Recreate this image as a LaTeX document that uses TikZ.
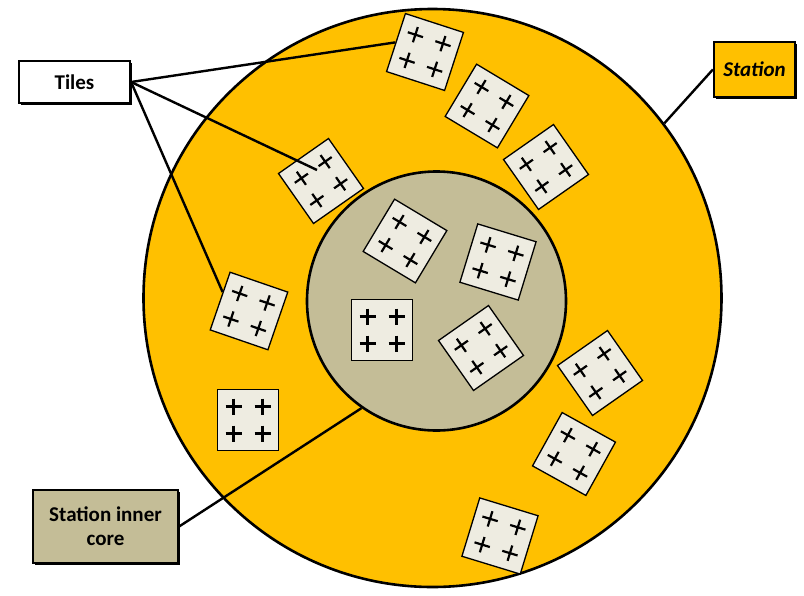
\documentclass[tikz,border=0pt]{standalone}
\usepackage{fontspec}
\setmainfont{Carlito}
\usetikzlibrary{shadows,calc}
\definecolor{ringorange}{HTML}{FFC000}
\definecolor{coretan}{HTML}{C4BD97}
\definecolor{tilefill}{HTML}{EEECE1}
\begin{document}
\begin{tikzpicture}[x=1pt,y=-1pt,
  tilebox/.style={draw=black, line width=1.3pt, fill=tilefill, minimum width=61pt, minimum height=61pt, inner sep=0pt},
  crossline/.style={black, line width=2.2pt},
  labelbox/.style={draw=black, line width=2.2pt, inner sep=0pt, font=\fontsize{21}{24}\selectfont\bfseries, align=center,
    drop shadow={shadow xshift=2pt, shadow yshift=-2pt, opacity=1, fill=black}},
  connector/.style={black, line width=2.4pt},
  tile/.pic={
    \node[tilebox, transform shape] (-box) at (0,0) {};
    \foreach \dx in {-14.5,14.5} \foreach \dy in {-13.5,13.5} {
      \draw[crossline] (\dx-8,\dy) -- (\dx+8,\dy) (\dx,\dy-8) -- (\dx,\dy+8);
    }
  }]
\useasboundingbox (0,0) rectangle (804,595);
% rings
\node[circle, draw=black, line width=2.6pt, fill=ringorange, minimum size=578pt, inner sep=0pt] (ring) at (432.5,298) {};
\node[circle, draw=black, line width=2.6pt, fill=coretan, minimum size=259pt, inner sep=0pt] (core) at (436.5,301) {};
% tiles
\pic[rotate=-18] (t1) at (425,52) {tile};
\pic[rotate=-31] (t2) at (487,106) {tile};
\pic[rotate=35] (t3) at (546,167) {tile};
\pic[rotate=35] (t4) at (321,181) {tile};
\pic[rotate=-19] (t5) at (249,311) {tile};
\pic (t6) at (248,420) {tile};
\pic[rotate=-31] (t7) at (405,241) {tile};
\pic[rotate=-17] (t8) at (498,262) {tile};
\pic (t9) at (382,330) {tile};
\pic[rotate=35] (t10) at (481,348) {tile};
\pic[rotate=35] (t11) at (600,373) {tile};
\pic[rotate=-29] (t12) at (574,454) {tile};
\pic[rotate=-17] (t13) at (500,536) {tile};
% labels
\node[labelbox, fill=white, minimum width=111pt, minimum height=42pt] (tiles) at (74.5,82) {Tiles};
\node[labelbox, fill=ringorange, minimum width=81pt, minimum height=55pt, font=\fontsize{21}{24}\selectfont\bfseries\itshape] (station) at (754.5,69.5) {Station};
\node[labelbox, fill=coretan, minimum width=145pt, minimum height=73pt] (corelabel) at (105.5,526.5) {Station inner\\core};
% connectors
\coordinate (tilesB) at (317,170);
\draw[connector] (tiles.east) -- (t1-box.west);
\draw[connector] (tiles.east) -- (tilesB);
\draw[connector] (tiles.east) -- ($(t5-box.north west)!0.35!(t5-box.south west)$);
\draw[connector] (ring.37) -- (station.west);
\draw[connector] (corelabel.east) -- (core.235);
\end{tikzpicture}
\end{document}
